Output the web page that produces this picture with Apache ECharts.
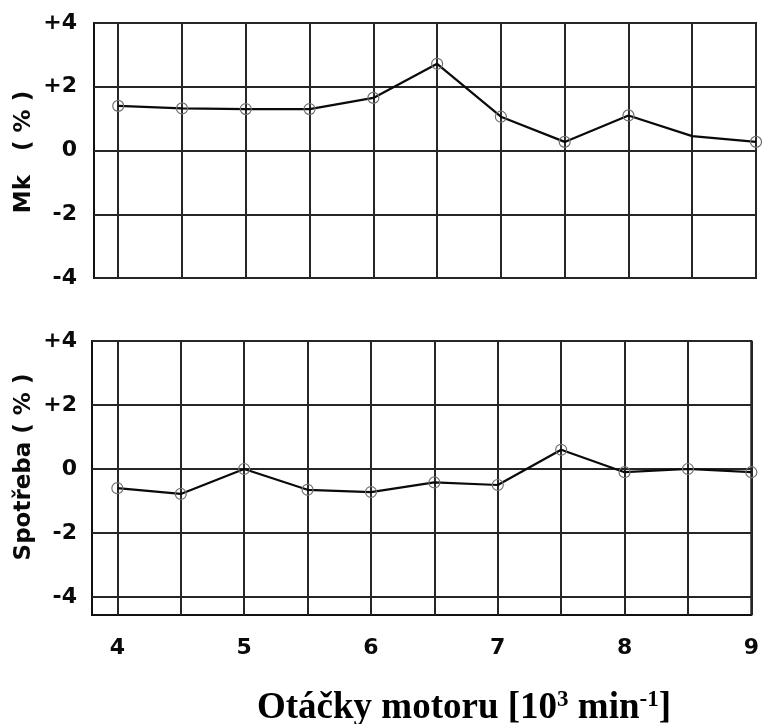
<!DOCTYPE html>
<html><head><meta charset="utf-8">
<script src="https://cdn.jsdelivr.net/npm/echarts@6/dist/echarts.min.js"></script>
<style>html,body{margin:0;padding:0;background:#fff}#c{width:762px;height:724px}</style>
</head><body><div id="c"></div>
<script>
// ---- data ----
const rpm = [4, 4.5, 5, 5.5, 6, 6.5, 7, 7.5, 8, 8.5, 9];
const mk = [1.4, 1.32, 1.3, 1.3, 1.65, 2.72, 1.06, 0.27, 1.1, 0.45, 0.27];
const spotreba = [-0.6, -0.78, 0.0, -0.65, -0.72, -0.42, -0.5, 0.6, -0.1, 0.0, -0.1];
const mkNoMarkerAt = [8.5];
const xTickLabels = [4, 5, 6, 7, 8, 9];
const xGridValues = [4, 4.5, 5, 5.5, 6, 6.5, 7, 7.5, 8, 8.5, 9];
const yTickValues = [-4, -2, 0, 2, 4];
const yName1 = 'Mk   ( % )';
const yName2 = 'Spotřeba ( % )';

// ---- styles ----
const labelFont = {fontFamily: 'DejaVu Sans', fontWeight: 'bold', fontSize: 22, color: '#0a0a0a'};
const gridLineStyle = {color: '#262626', width: 2, type: 'solid'};
const fmtY = v => (v > 0 ? '+' + v : String(v));

function gridSeries(idx) {
  return {
    type: 'line', xAxisIndex: idx, yAxisIndex: idx, data: [], silent: true, z: 1,
    markLine: {
      silent: true, symbol: 'none', animation: false, label: {show: false},
      lineStyle: gridLineStyle, emphasis: {disabled: true},
      data: xGridValues.map(v => ({xAxis: v})).concat(yTickValues.map(v => ({yAxis: v})))
    }
  };
}
function dataSeries(idx, vals, hidden) {
  return {
    type: 'line', xAxisIndex: idx, yAxisIndex: idx, z: 5, animation: false,
    data: rpm.map((x, i) => {
      const d = {value: [x, vals[i]]};
      if (hidden.indexOf(x) >= 0) d.symbol = 'none';
      return d;
    }),
    symbol: 'circle', symbolSize: 11,
    itemStyle: {color: 'rgba(0,0,0,0)', borderColor: '#6f6f6f', borderWidth: 1.2},
    lineStyle: {color: '#0a0a0a', width: 2.2}
  };
}

const chart = echarts.init(document.getElementById('c'));
chart.setOption({
  backgroundColor: '#fff',
  animation: false,
  grid: [
    {left: 94, top: 23, width: 662, height: 255, show: true, borderColor: '#111', borderWidth: 2, backgroundColor: '#fff'},
    {left: 92, top: 341, width: 664, height: 274, show: true, borderColor: '#111', borderWidth: 2, backgroundColor: '#fff'}
  ],
  xAxis: [
    {type: 'value', gridIndex: 0, min: 3.81, max: 9, axisLine: {show: false}, axisTick: {show: false},
     axisLabel: {show: false}, splitLine: {show: false}},
    {type: 'value', gridIndex: 1, min: 3.8, max: 9, axisLine: {show: false}, axisTick: {show: false},
     axisLabel: Object.assign({customValues: xTickLabels, margin: 22}, labelFont), splitLine: {show: false}}
  ],
  yAxis: [
    {type: 'value', gridIndex: 0, min: -4, max: 4, axisLine: {show: false}, axisTick: {show: false},
     axisLabel: Object.assign({customValues: yTickValues, formatter: fmtY, margin: 17}, labelFont), splitLine: {show: false}},
    {type: 'value', gridIndex: 1, min: -4.5625, max: 4, axisLine: {show: false}, axisTick: {show: false},
     axisLabel: Object.assign({customValues: yTickValues, formatter: fmtY, margin: 15}, labelFont), splitLine: {show: false}}
  ],
  series: [gridSeries(0), gridSeries(1), dataSeries(0, mk, mkNoMarkerAt), dataSeries(1, spotreba, [])],
  graphic: [
    {type: 'text', x: 24, y: 152, rotation: Math.PI / 2,
     style: {text: yName1, fontFamily: 'DejaVu Sans', fontWeight: 'bold', fontSize: 23, fill: '#0a0a0a', align: 'center', verticalAlign: 'middle'}},
    {type: 'text', x: 24, y: 467, rotation: Math.PI / 2,
     style: {text: yName2, fontFamily: 'DejaVu Sans', fontWeight: 'bold', fontSize: 23, fill: '#0a0a0a', align: 'center', verticalAlign: 'middle'}},
    {type: 'text', x: 464, y: 708,
     style: {
       text: '{a|Otáčky motoru [10}{s|3}{a| min}{s|-1}{a|]}',
       align: 'center', verticalAlign: 'middle',
       rich: {
         a: {fontFamily: 'Liberation Serif', fontWeight: 'bold', fontSize: 37, fill: '#000'},
         s: {fontFamily: 'Liberation Serif', fontWeight: 'bold', fontSize: 23, fill: '#000', padding: [0, 0, 15, 0]}
       }
     }}
  ]
});
</script>
</body></html>
